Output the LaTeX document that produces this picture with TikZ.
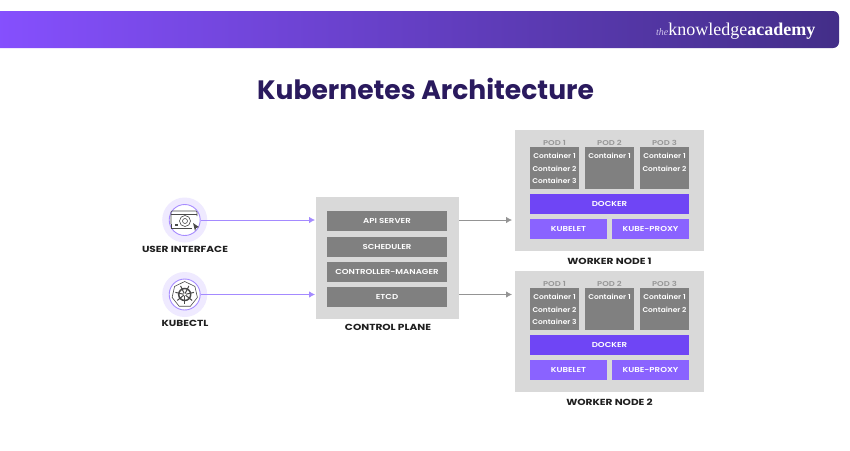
\documentclass[tikz,border=0pt]{standalone}
\usepackage{fontspec}
\setmainfont{Poppins}[BoldFont={Poppins SemiBold}]
\newfontfamily\titlefont{Poppins}[UprightFont={* Bold}]
\newfontfamily\capsfont{Poppins}[UprightFont={* Bold},FakeStretch=1.2]
\newfontfamily\barfont{Poppins}[UprightFont={* SemiBold},FakeStretch=1.2]
\newfontfamily\contfont{Poppins}[UprightFont={* SemiBold},FakeStretch=1.08]
\newfontfamily\logofont{Liberation Serif}
\definecolor{bannerl}{HTML}{8650FF}
\definecolor{bannerr}{HTML}{432E88}
\definecolor{panel}{HTML}{D9D9D9}
\definecolor{bar}{HTML}{808080}
\definecolor{docker}{HTML}{6F45F5}
\definecolor{kube}{HTML}{8A63FF}
\definecolor{titlec}{HTML}{2A1A5E}
\definecolor{podl}{HTML}{969696}
\definecolor{halo}{HTML}{EFEAFF}
\definecolor{ring}{HTML}{A78CFF}
\definecolor{arrowp}{HTML}{A48AFF}
\definecolor{arrowg}{HTML}{949494}
\definecolor{icon}{HTML}{4A4A4A}
\definecolor{logothe}{HTML}{CFC4EC}
\usetikzlibrary{arrows.meta}
\tikzset{
  blk/.style={rectangle,inner sep=0pt,outer sep=0pt,text=white,text height=5pt,text depth=0pt,font=\barfont\fontsize{7.2}{8}\selectfont},
  panelbox/.style={blk,fill=panel},
  barbox/.style={blk,fill=bar},
  dockerbox/.style={blk,fill=docker},
  kubebox/.style={blk,fill=kube},
  cont/.style={inner sep=0pt,text=white,text height=5pt,text depth=0pt,font=\contfont\fontsize{6.9}{8}\selectfont},
  podlabel/.style={inner sep=0pt,text=podl,text height=5pt,text depth=0pt,font=\barfont\fontsize{7}{8}\selectfont},
  caplabel/.style={inner sep=0pt,text=black!88,text height=6.1pt,text depth=0pt,font=\capsfont\fontsize{8.8}{9}\selectfont},
  halocirc/.style={circle,fill=halo,minimum size=45pt,inner sep=0pt},
  ringcirc/.style={circle,fill=white,draw=ring,line width=0.9pt,minimum size=31pt,inner sep=0pt},
  parrow/.style={draw=arrowp,line width=0.8pt,-{Latex[length=6pt,width=6.5pt]}},
  garrow/.style={draw=arrowg,line width=0.8pt,-{Latex[length=6pt,width=6.5pt]}},
  iconline/.style={draw=icon,line width=0.6pt},
}
\begin{document}
\begin{tikzpicture}[x=1pt,y=-1pt]
\useasboundingbox (0,0) rectangle (850,450);
\fill[white] (0,0) rectangle (850,450);
% banner
\begin{scope}
\clip (0,0) rectangle (850,450);
\shade[left color=bannerl,right color=bannerr,rounded corners=6pt] (-10,11) rectangle (839,48);
\end{scope}
\node[inner sep=0pt,anchor=base west,text=white,font=\logofont\fontsize{18}{18}\selectfont] (logo) at (656,35)
  {{\itshape\fontsize{10}{10}\selectfont\color{logothe}the}knowledge\textbf{academy}};
% title
\node[inner sep=0pt,text=titlec,font=\titlefont\fontsize{26.6}{30}\selectfont] (title) at (425.5,89) {Kubernetes Architecture};
% left icons
\node[halocirc] (h1) at (184.7,220) {};
\node[ringcirc] (ui) at (184.7,220) {};
\node[halocirc] (h2) at (184.7,294.5) {};
\node[ringcirc] (kc) at (184.7,294.5) {};
\node[caplabel] (uil) at (185,249) {USER INTERFACE};
\node[caplabel] (kcl) at (185,323) {KUBECTL};
% ui icon
\draw[iconline,rounded corners=1pt] (171,224) -- (171,211) -- (197,211) -- (197,216);
\draw[iconline] (171,214.5) -- (197,214.5);
\draw[iconline] (176,228) -- (171,228) -- (171,224);
\draw[iconline] (176,228) -- (192,228);
\draw[iconline] (185,221) circle[radius=5.5];
\draw[iconline] (185,221) circle[radius=2.5];
\fill[icon] (193,223) -- (199,227) -- (196,228) -- (195,231) -- cycle;
\fill[icon] (175,224) rectangle (178,226);
% kubectl icon
\draw[iconline] (184.7,281.5)
  -- ++(10.2,4.9) -- ++(2.5,11) -- ++(-7,8.8) -- ++(-11.3,0) -- ++(-7,-8.8) -- ++(2.5,-11) -- cycle;
\draw[icon,line width=1.5pt] (184.7,294.5) circle[radius=6];
\foreach \a in {90,141.4,192.9,244.3,295.7,347.1,38.6}
  \draw[icon,line width=1pt] (184.7,294.5) -- ++(\a:9.5);
\fill[white] (184.7,294.5) circle[radius=1.4];
% control plane
\node[panelbox,minimum width=143pt,minimum height=122pt] (cp) at (387.5,258) {};
\node[barbox,minimum width=120pt,minimum height=20pt] (api) at (387,221) {API SERVER};
\node[barbox,minimum width=120pt,minimum height=20pt] (sch) at (387,246.7) {SCHEDULER};
\node[barbox,minimum width=120pt,minimum height=20pt] (ctl) at (387,271.7) {CONTROLLER-MANAGER};
\node[barbox,minimum width=120pt,minimum height=20pt] (etc) at (387,297) {ETCD};
\node[caplabel] (cpl) at (388,327.7) {CONTROL PLANE};
% worker 1
\node[panelbox,minimum width=189pt,minimum height=121pt] (w1) at (609.5,190.5) {};
\node[podlabel] (w1a) at (554.5,142.5) {POD 1};
\node[podlabel] (w1b) at (609.5,142.5) {POD 2};
\node[podlabel] (w1c) at (664.5,142.5) {POD 3};
\node[barbox,minimum width=49pt,minimum height=42pt] (w1p1) at (554.5,168) {};
\node[barbox,minimum width=49pt,minimum height=42pt] (w1p2) at (609.5,168) {};
\node[barbox,minimum width=49pt,minimum height=42pt] (w1p3) at (664.5,168) {};
\node[cont] (w1c11) at (554.5,156) {Container 1};
\node[cont] (w1c12) at (554.5,169) {Container 2};
\node[cont] (w1c13) at (554.5,181.3) {Container 3};
\node[cont] (w1c21) at (609.5,156) {Container 1};
\node[cont] (w1c31) at (664.5,156) {Container 1};
\node[cont] (w1c32) at (664.5,169) {Container 2};
\node[dockerbox,minimum width=159pt,minimum height=20pt] (w1d) at (609.5,204) {DOCKER};
\node[kubebox,minimum width=77pt,minimum height=20pt] (w1k) at (568.5,229) {KUBELET};
\node[kubebox,minimum width=77pt,minimum height=20pt] (w1x) at (650.5,229) {KUBE-PROXY};
\node[caplabel] (w1l) at (609.5,261) {WORKER NODE 1};
% worker 2
\node[panelbox,minimum width=189pt,minimum height=121pt] (w2) at (609.5,331.5) {};
\node[podlabel] (w2a) at (554.5,283.5) {POD 1};
\node[podlabel] (w2b) at (609.5,283.5) {POD 2};
\node[podlabel] (w2c) at (664.5,283.5) {POD 3};
\node[barbox,minimum width=49pt,minimum height=42pt] (w2p1) at (554.5,309) {};
\node[barbox,minimum width=49pt,minimum height=42pt] (w2p2) at (609.5,309) {};
\node[barbox,minimum width=49pt,minimum height=42pt] (w2p3) at (664.5,309) {};
\node[cont] (w2c11) at (554.5,297) {Container 1};
\node[cont] (w2c12) at (554.5,310) {Container 2};
\node[cont] (w2c13) at (554.5,322.3) {Container 3};
\node[cont] (w2c21) at (609.5,297) {Container 1};
\node[cont] (w2c31) at (664.5,297) {Container 1};
\node[cont] (w2c32) at (664.5,310) {Container 2};
\node[dockerbox,minimum width=159pt,minimum height=20pt] (w2d) at (609.5,345) {DOCKER};
\node[kubebox,minimum width=77pt,minimum height=20pt] (w2k) at (568.5,370) {KUBELET};
\node[kubebox,minimum width=77pt,minimum height=20pt] (w2x) at (650.5,370) {KUBE-PROXY};
\node[caplabel] (w2l) at (609.5,402) {WORKER NODE 2};
% connectors
\coordinate (a1) at ([xshift=-1pt]cp.west |- ui);
\coordinate (a2) at ([xshift=-1pt]cp.west |- kc);
\coordinate (b1) at ([xshift=-3pt]w1.west |- ui);
\coordinate (b2) at ([xshift=-3pt]w2.west |- kc);
\draw[parrow] (ui.east) -- (a1);
\draw[parrow] (kc.east) -- (a2);
\draw[garrow] (cp.east |- ui) -- (b1);
\draw[garrow] (cp.east |- kc) -- (b2);
\end{tikzpicture}
\end{document}
